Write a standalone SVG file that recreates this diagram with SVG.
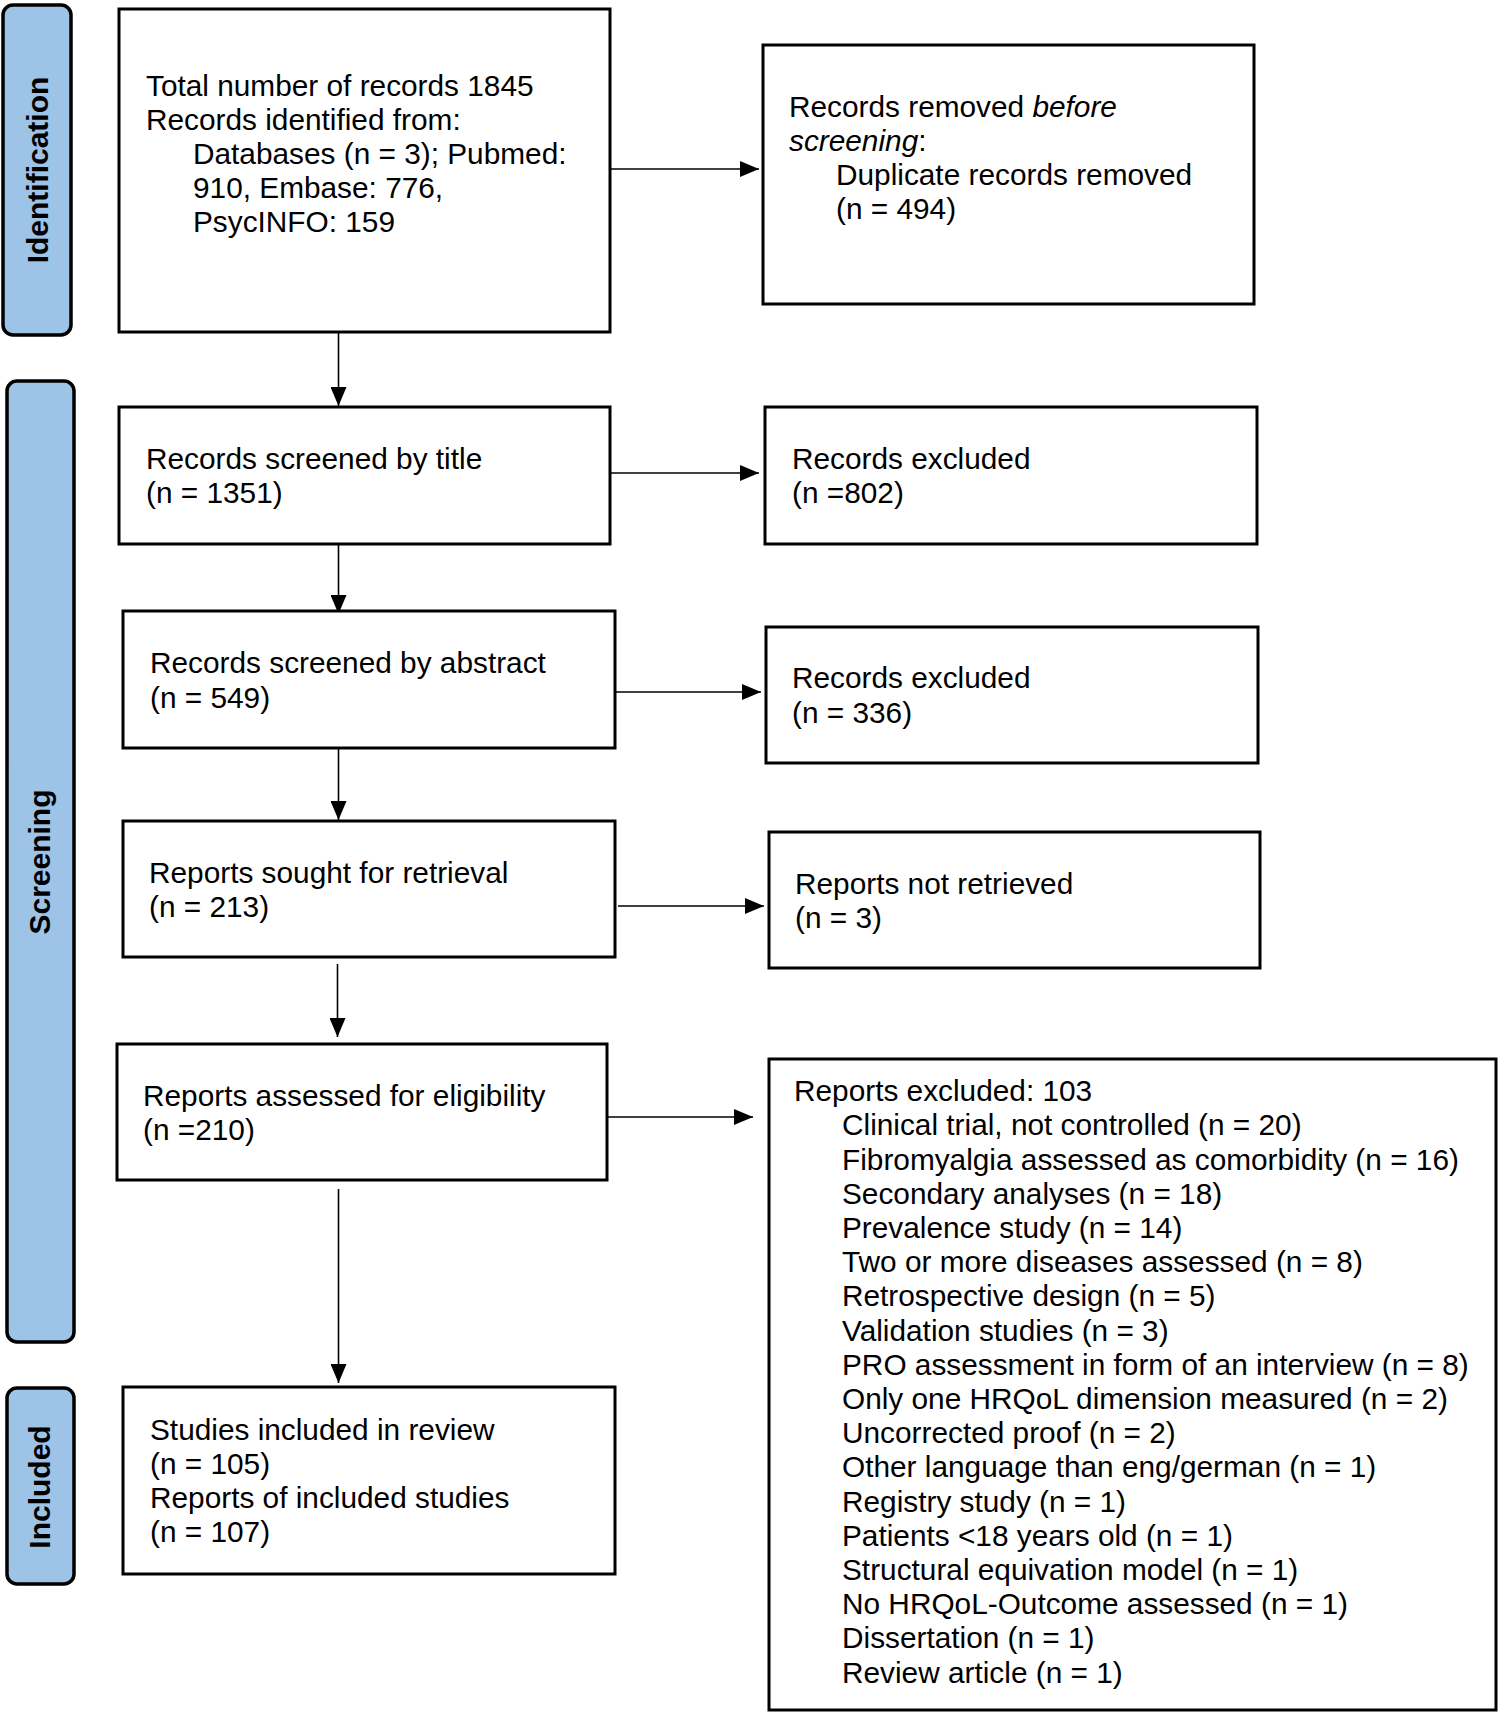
<svg xmlns="http://www.w3.org/2000/svg" width="1498" height="1712" viewBox="0 0 1498 1712">
<style>
.box{fill:#fff;stroke:#000;stroke-width:3}
.tab{fill:#9DC3E6;stroke:#000;stroke-width:3.5}
.t{font-family:"Liberation Sans",Arial,sans-serif;font-size:29.8px;fill:#000}
.tl{font-family:"Liberation Sans",Arial,sans-serif;font-size:30px;font-weight:bold;fill:#000;text-anchor:middle}
.c{stroke:#000;stroke-width:1.6;fill:none;marker-end:url(#ah)}
</style>
<defs>
<marker id="ah" markerUnits="userSpaceOnUse" markerWidth="20" markerHeight="16" refX="19" refY="8" orient="auto">
<path d="M0,0 L19,8 L0,16 z" fill="#000"/>
</marker>
</defs>
<rect width="1498" height="1712" fill="#fff"/>
<g id="tab-identification">
<rect class="tab" x="3" y="5" width="68" height="330" rx="10"/>
<text class="tl" transform="translate(48,170) rotate(-90)">Identification</text>
</g>
<g id="tab-screening">
<rect class="tab" x="7" y="381" width="67" height="961" rx="10"/>
<text class="tl" transform="translate(50,862) rotate(-90)">Screening</text>
</g>
<g id="tab-included">
<rect class="tab" x="7" y="1388" width="67" height="196" rx="10"/>
<text class="tl" transform="translate(50,1487) rotate(-90)">Included</text>
</g>
<g id="connectors">
<line class="c" x1="610" y1="169" x2="759" y2="169"/>
<line class="c" x1="338.5" y1="332" x2="338.5" y2="406"/>
<line class="c" x1="610" y1="473" x2="759" y2="473"/>
<line class="c" x1="338.5" y1="544" x2="338.5" y2="614"/>
<line class="c" x1="615" y1="692" x2="761" y2="692"/>
<line class="c" x1="338.5" y1="748" x2="338.5" y2="820"/>
<line class="c" x1="618" y1="906" x2="764" y2="906"/>
<line class="c" x1="337.5" y1="964" x2="337.5" y2="1037"/>
<line class="c" x1="607" y1="1117" x2="753" y2="1117"/>
<line class="c" x1="338.5" y1="1189" x2="338.5" y2="1383"/>
</g>
<g id="n-total">
<rect class="box" x="119" y="9" width="491" height="323"/>
<text class="t" x="146" y="96">Total number of records 1845</text>
<text class="t" x="146" y="130">Records identified from:</text>
<text class="t" x="193" y="164">Databases (n = 3); Pubmed:</text>
<text class="t" x="193" y="198">910, Embase: 776,</text>
<text class="t" x="193" y="232">PsycINFO: 159</text>
</g>
<g id="n-removed">
<rect class="box" x="763" y="45" width="491" height="259"/>
<text class="t" x="789" y="117">Records removed <tspan font-style="italic">before</tspan></text>
<text class="t" x="789" y="151"><tspan font-style="italic">screening</tspan>:</text>
<text class="t" x="836" y="185">Duplicate records removed</text>
<text class="t" x="836" y="219">(n = 494)</text>
</g>
<g id="n-title">
<rect class="box" x="119" y="407" width="491" height="137"/>
<text class="t" x="146" y="469">Records screened by title</text>
<text class="t" x="146" y="503">(n = 1351)</text>
</g>
<g id="n-excl802">
<rect class="box" x="765" y="407" width="492" height="137"/>
<text class="t" x="792" y="469">Records excluded</text>
<text class="t" x="792" y="503">(n =802)</text>
</g>
<g id="n-abstract">
<rect class="box" x="123" y="611" width="492" height="137"/>
<text class="t" x="150" y="673">Records screened by abstract</text>
<text class="t" x="150" y="708">(n = 549)</text>
</g>
<g id="n-excl336">
<rect class="box" x="766" y="627" width="492" height="136"/>
<text class="t" x="792" y="688">Records excluded</text>
<text class="t" x="792" y="723">(n = 336)</text>
</g>
<g id="n-sought">
<rect class="box" x="123" y="821" width="492" height="136"/>
<text class="t" x="149" y="883">Reports sought for retrieval</text>
<text class="t" x="149" y="917">(n = 213)</text>
</g>
<g id="n-notretrieved">
<rect class="box" x="769" y="832" width="491" height="136"/>
<text class="t" x="795" y="894">Reports not retrieved</text>
<text class="t" x="795" y="928">(n = 3)</text>
</g>
<g id="n-assessed">
<rect class="box" x="117" y="1044" width="490" height="136"/>
<text class="t" x="143" y="1106">Reports assessed for eligibility</text>
<text class="t" x="143" y="1140">(n =210)</text>
</g>
<g id="n-excl103">
<rect class="box" x="769" y="1059" width="727" height="651"/>
<text class="t" x="794" y="1101">Reports excluded: 103</text>
<text class="t" x="842" y="1135">Clinical trial, not controlled (n = 20)</text>
<text class="t" x="842" y="1169.5">Fibromyalgia assessed as comorbidity (n = 16)</text>
<text class="t" x="842" y="1203.5">Secondary analyses (n = 18)</text>
<text class="t" x="842" y="1238">Prevalence study (n = 14)</text>
<text class="t" x="842" y="1272">Two or more diseases assessed (n = 8)</text>
<text class="t" x="842" y="1306">Retrospective design (n = 5)</text>
<text class="t" x="842" y="1340.5">Validation studies (n = 3)</text>
<text class="t" x="842" y="1374.5">PRO assessment in form of an interview (n = 8)</text>
<text class="t" x="842" y="1409">Only one HRQoL dimension measured (n = 2)</text>
<text class="t" x="842" y="1443">Uncorrected proof (n = 2)</text>
<text class="t" x="842" y="1477">Other language than eng/german (n = 1)</text>
<text class="t" x="842" y="1511.5">Registry study (n = 1)</text>
<text class="t" x="842" y="1545.5">Patients &lt;18 years old (n = 1)</text>
<text class="t" x="842" y="1580">Structural equivation model (n = 1)</text>
<text class="t" x="842" y="1614">No HRQoL-Outcome assessed (n = 1)</text>
<text class="t" x="842" y="1648">Dissertation (n = 1)</text>
<text class="t" x="842" y="1682.5">Review article (n = 1)</text>
</g>
<g id="n-included">
<rect class="box" x="123" y="1387" width="492" height="187"/>
<text class="t" x="150" y="1440">Studies included in review</text>
<text class="t" x="150" y="1474">(n = 105)</text>
<text class="t" x="150" y="1508">Reports of included studies</text>
<text class="t" x="150" y="1542">(n = 107)</text>
</g>
</svg>
